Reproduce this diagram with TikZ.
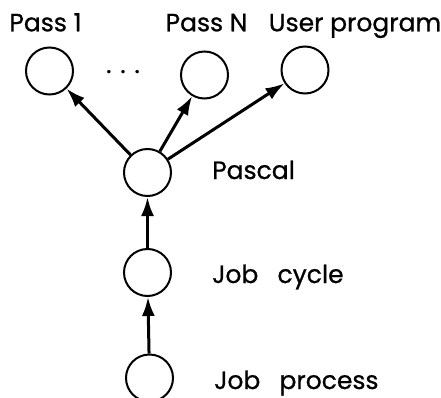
\documentclass[tikz,border=0pt]{standalone}
\usepackage{fontspec}
\setmainfont{Poppins}[FakeBold=0.8]
\usetikzlibrary{arrows.meta, positioning}

\begin{document}
\begin{tikzpicture}[
    x=1pt, y=-1pt,
    node distance=40pt,
    proc/.style={circle, draw=black, line width=2pt, minimum size=47pt, inner sep=0pt},
    tag/.style={font=\fontsize{25}{30}\selectfont, inner sep=0pt, text height=19pt, text depth=6pt},
    arrow/.style={line width=3pt, -{Latex[length=19pt,width=13pt]}}
]
\useasboundingbox (0,0) rectangle (441,398);

% process tree
\node[proc] (pass1) at (49.5,71) {};
\node[proc] (passn) at (204.5,75) {};
\node[proc] (user) at (305,70) {};
\node[proc] (pascal) at (147.5,172.5) {};
\node[proc] (jobcycle) at (147.5,272.5) {};
\node[proc] (jobprocess) at (149.5,378) {};

\node[tag, above=9pt of pass1, xshift=-4pt] (pass1lbl) {Pass 1};
\node[tag, above=13pt of passn, xshift=2pt] (passnlbl) {Pass N};
\node[tag, above=8pt of user, xshift=50pt] (userlbl) {User program};
\node[tag, anchor=base] (dots) at (123,73) {. . .};

\node[tag, right=of pascal] (pascallbl) {Pascal};
\node[tag, right=of jobcycle, yshift=-4pt] (jobcyclelbl) {Job\hspace{0.5em} cycle};
\node[tag, right=of jobprocess, yshift=-4.5pt] (jobprocesslbl) {Job\hspace{0.5em} process};

\draw[arrow] (pascal) -- (pass1);
\draw[arrow] (pascal) -- (passn);
\draw[arrow] (pascal) -- (user);
\draw[arrow] (jobcycle) -- (pascal);
\draw[arrow] (jobprocess) -- (jobcycle);

\end{tikzpicture}
\end{document}
